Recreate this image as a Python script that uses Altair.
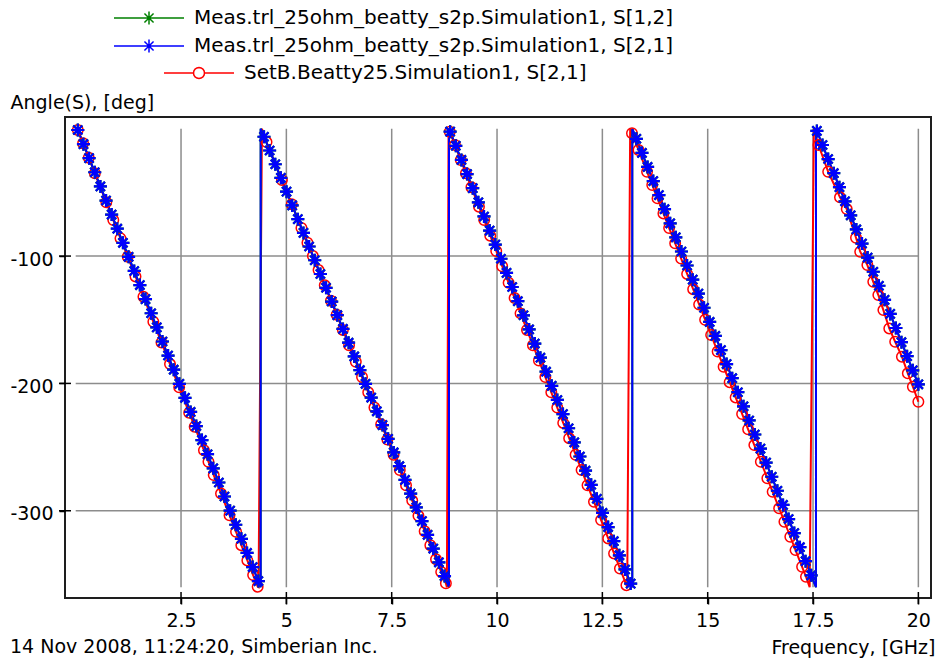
import math
import altair as alt
import pandas as pd

FONT = "DejaVu Sans"
FS = 19
LFS = 20

# ---------------- data ----------------
# measured S[2,1] (blue, asterisks) -- marker positions, one list per wrapped segment
meas_f_a = [0.05, 0.184, 0.318, 0.452, 0.586, 0.72, 0.853, 0.987, 1.121, 1.255, 1.389, 1.523, 1.657, 1.791,
            1.925, 2.059, 2.192, 2.326, 2.46, 2.594, 2.728, 2.862, 2.996, 3.13, 3.264, 3.398, 3.531, 3.665,
            3.799, 3.933, 4.067, 4.201, 4.335]
meas_a_a = [-1, -12.1, -23.1, -34.2, -45.3, -56.4, -67.4, -78.5, -89.6, -100.6, -111.7, -122.8, -133.8, -144.9,
            -156, -167.1, -178.1, -189.2, -200.3, -211.3, -222.4, -233.5, -244.5, -255.6, -266.7, -277.8, -288.8,
            -299.9, -311, -322, -333.1, -344.2, -355.2]
meas_f_b = [4.469, 4.603, 4.737, 4.87, 5.004, 5.138, 5.272, 5.406, 5.54, 5.674, 5.808, 5.942, 6.076, 6.209,
            6.343, 6.477, 6.611, 6.745, 6.879, 7.013, 7.147, 7.281, 7.415, 7.548, 7.682, 7.816, 7.95, 8.084,
            8.218, 8.352, 8.486, 8.62, 8.754]
meas_a_b = [-6.3, -17.1, -27.9, -38.6, -49.4, -60.2, -71, -81.8, -92.5, -103.3, -114.1, -124.9, -135.7, -146.4,
            -157.2, -168, -178.8, -189.6, -200.3, -211.1, -221.9, -232.7, -243.5, -254.2, -265, -275.8, -286.6,
            -297.4, -308.1, -318.9, -329.7, -340.5, -351.3]
meas_f_c = [8.887, 9.021, 9.155, 9.289, 9.423, 9.557, 9.691, 9.825, 9.959, 10.093, 10.226, 10.36, 10.494,
            10.628, 10.762, 10.896, 11.03, 11.164, 11.298, 11.432, 11.565, 11.699, 11.833, 11.967, 12.101,
            12.235, 12.369, 12.503, 12.637, 12.771, 12.904, 13.038, 13.172]
meas_a_c = [-2.3, -13.4, -24.5, -35.6, -46.7, -57.8, -68.9, -80, -91, -102.1, -113.2, -124.3, -135.4, -146.5,
            -157.6, -168.7, -179.8, -190.8, -201.9, -213, -224.1, -235.2, -246.3, -257.4, -268.5, -279.6,
            -290.6, -301.7, -312.8, -323.9, -335, -346.1, -357.2]
meas_f_d = [13.306, 13.44, 13.574, 13.708, 13.842, 13.976, 14.11, 14.243, 14.377, 14.511, 14.645, 14.779,
            14.913, 15.047, 15.181, 15.315, 15.449, 15.582, 15.716, 15.85, 15.984, 16.118, 16.252, 16.386,
            16.52, 16.654, 16.788, 16.921, 17.055, 17.189, 17.323, 17.457]
meas_a_d = [-7.9, -19, -30, -41.1, -52.1, -63.2, -74.3, -85.3, -96.4, -107.4, -118.5, -129.5, -140.6, -151.7,
            -162.7, -173.8, -184.8, -195.9, -206.9, -218, -229.1, -240.1, -251.2, -262.2, -273.3, -284.3,
            -295.4, -306.5, -317.5, -328.6, -339.6, -350.7]
meas_f_e = [17.591, 17.725, 17.859, 17.993, 18.127, 18.26, 18.394, 18.528, 18.662, 18.796, 18.93, 19.064,
            19.198, 19.332, 19.466, 19.599, 19.733, 19.867, 20.0]
meas_a_e = [-1.7, -12.8, -23.8, -34.9, -45.9, -57, -68, -79.1, -90.2, -101.2, -112.3, -123.3, -134.4, -145.4,
            -156.5, -167.6, -178.6, -189.7, -200.7]
meas_wrap_bottom = [4.39, 8.86, 13.21, 17.57]   # phase jumps from -360 ...
meas_wrap_top = [4.39, 8.86, 13.21, 17.57]      # ... back to 0

# S[1,2] (green) lies exactly under S[2,1] in the picture
s12_f = meas_f_a + meas_f_b + meas_f_c + meas_f_d + meas_f_e
s12_a = meas_a_a + meas_a_b + meas_a_c + meas_a_d + meas_a_e
s21_f = meas_f_a + meas_f_b + meas_f_c + meas_f_d + meas_f_e
s21_a = meas_a_a + meas_a_b + meas_a_c + meas_a_d + meas_a_e

# simulated S[2,1] (red, circles)
sim_f = [0.05, 0.175, 0.31, 0.455, 0.726, 0.892, 1.063, 1.235, 1.419, 1.608, 1.843, 2.036, 2.238, 2.456,
         2.693, 2.824, 3.044, 3.151, 3.276, 3.449, 3.651, 3.806, 3.931, 4.074, 4.211, 4.319,
         4.529, 4.895, 5.128, 5.358, 5.5, 5.629, 5.764, 5.911, 6.058, 6.194, 6.341, 6.488, 6.648, 6.796,
         6.943, 7.09, 7.25, 7.398, 7.545, 7.692, 7.84, 7.987, 8.135, 8.282, 8.417, 8.552, 8.675, 8.786,
         8.878, 9.001, 9.14, 9.262, 9.392, 9.571, 9.695, 9.839, 9.981, 10.122, 10.275, 10.417, 10.558,
         10.711, 10.852, 10.994, 11.147, 11.288, 11.43, 11.571, 11.712, 11.865, 12.007, 12.148, 12.301,
         12.47, 12.639, 12.778, 12.917, 13.071,
         13.203, 13.358, 13.561, 13.684, 13.809, 13.949, 14.085, 14.228, 14.37, 14.512, 14.655, 14.797,
         14.939, 15.082, 15.236, 15.378, 15.521, 15.663, 15.817, 15.96, 16.107, 16.262, 16.416, 16.542,
         16.696, 16.821, 16.961, 17.085, 17.241, 17.333,
         17.63, 17.86, 18.14, 18.3, 18.52, 18.62, 18.79, 18.93, 19.05, 19.17, 19.31, 19.45, 19.61, 19.75,
         19.87, 20.0]
sim_a = [-1, -11.5, -22.8, -35, -57.8, -71.7, -86.1, -100.5, -116, -131.9, -151.6, -167.8, -184.8, -203.1,
         -223, -234, -252.5, -261.5, -272, -286.5, -303.5, -316.5, -327, -339, -350.5, -359.6,
         -10.5, -40.3, -59.3, -78, -89.5, -100, -111, -123, -135, -146, -158, -170, -183, -195, -207, -219,
         -232, -244, -256, -268, -280, -292, -304, -316, -327, -338, -348, -357,
         -2.4, -12.8, -24.6, -35, -46, -61.2, -71.7, -84, -96, -108, -121, -133, -145, -158, -170, -182,
         -195, -207, -219, -231, -243, -256, -268, -280, -293, -307.3, -321.7, -333.5, -345.3, -358.4,
         -3.6, -16.7, -33.8, -44.2, -54.7, -66.5, -78, -90, -102, -114, -126, -138, -150, -162, -175, -187,
         -199, -211, -224, -236, -248.4, -261.5, -274.5, -285.1, -298.1, -308.6, -320.4, -330.9, -344,
         -351.8,
         -12.8, -33.8, -53.9, -63.1, -85.6, -96.6, -107.1, -120.2, -130.6, -142.4, -156.8, -167.3, -179,
         -192.1, -202.6, -214.4]
sim_wrap_bottom = [4.34, 8.81, 13.09, 17.42]
sim_wrap_top = [4.42, 8.85, 13.16, 17.52]

labels = ["Meas.trl_25ohm_beatty_s2p.Simulation1, S[1,2]",
          "Meas.trl_25ohm_beatty_s2p.Simulation1, S[2,1]",
          "SetB.Beatty25.Simulation1, S[2,1]"]
colors = ["#008000", "#0000ff", "#ff0000"]

x_ticks = [2.5, 5, 7.5, 10, 12.5, 15, 17.5, 20]
y_ticks = [-300, -200, -100]
grid_x_range = [0, 20]
grid_y_range = [-360, 0]
x_domain = [-0.254, 20.30]
y_domain = [-368.5, 9.2]
footer = "14 Nov 2008, 11:24:20, Simberian Inc."


# ---------------- tables ----------------
def line_table(fs, angs, bottoms, tops, label):
    rows = [(f, a, 1) for f, a in zip(fs, angs)]
    rows += [(b, grid_y_range[0], 0) for b in bottoms]
    rows += [(t, grid_y_range[1], 2) for t in tops]
    rows.sort(key=lambda r: (r[0], r[2]))
    return pd.DataFrame({"f": [r[0] for r in rows], "angle": [r[1] for r in rows],
                         "k": list(range(len(rows))), "series": label})


def point_table(fs, angs, label):
    return pd.DataFrame({"f": fs, "angle": angs, "series": label})


green_line = line_table(s12_f, s12_a, meas_wrap_bottom, meas_wrap_top, labels[0])
blue_line = line_table(s21_f, s21_a, meas_wrap_bottom, meas_wrap_top, labels[1])
red_line = line_table(sim_f, sim_a, sim_wrap_bottom, sim_wrap_top, labels[2])

# ---------------- symbols ----------------
STAR = "M-1,0L1,0M0,-1L0,1M-0.7,-0.7L0.7,0.7M-0.7,0.7L0.7,-0.7"


def legend_star():
    s = 6.5 / 35
    d = s * 0.7
    return (f"M-1,0L1,0M0,{-s:.3f}L0,{s:.3f}M{-d:.3f},{-d:.3f}L{d:.3f},{d:.3f}"
            f"M{-d:.3f},{d:.3f}L{d:.3f},{-d:.3f}")


def legend_circle():
    r = 5.5 / 35
    pts = [(r * math.cos(2 * math.pi * i / 16), r * math.sin(2 * math.pi * i / 16)) for i in range(16)]
    p = f"M-1,0L{-r:.3f},0M{r:.3f},0L1,0"
    p += "M" + "L".join(f"{x:.3f},{y:.3f}" for x, y in pts) + "Z"
    return p


xs = alt.Scale(domain=x_domain, nice=False, zero=False)
ys = alt.Scale(domain=y_domain, nice=False, zero=False)

xaxis = alt.Axis(values=x_ticks, labelExpr="'' + datum.value", grid=False, domain=False,
                 tickSize=6, tickWidth=1.5, tickColor="black",
                 labelFont=FONT, labelFontSize=FS, labelColor="black", labelPadding=7,
                 labelFlush=False, labelOverlap=False,
                 title="Frequency, [GHz]", titleFont=FONT, titleFontSize=FS, titleFontWeight="normal",
                 titleColor="black", titleAngle=0, titleAlign="right", titleBaseline="alphabetic",
                 titleX=870, titleY=55)
yaxis = alt.Axis(values=y_ticks, labelExpr="'' + datum.value", grid=False, domain=False,
                 tickSize=6, tickWidth=1.5, tickColor="black",
                 labelFont=FONT, labelFontSize=FS, labelColor="black", labelPadding=6, labelOffset=3,
                 title="Angle(S), [deg]", titleFont=FONT, titleFontSize=FS, titleFontWeight="normal",
                 titleColor="black", titleAngle=0, titleAlign="left", titleBaseline="alphabetic",
                 titleX=-55, titleY=-9)

X = alt.X("f:Q", scale=xs, axis=xaxis)
Y = alt.Y("angle:Q", scale=ys, axis=yaxis)

# grid (only across the data range, like the reference)
vgrid = alt.Chart(pd.DataFrame({"f": x_ticks, "y0": grid_y_range[1], "y1": grid_y_range[0]})).mark_rule(
    color="#8c8c8c", strokeWidth=1.5).encode(x=X, y=alt.Y("y0:Q", scale=ys, axis=yaxis), y2="y1:Q")
hgrid = alt.Chart(pd.DataFrame({"angle": y_ticks, "x0": grid_x_range[0], "x1": grid_x_range[1]})).mark_rule(
    color="#8c8c8c", strokeWidth=1.5).encode(y=Y, x=alt.X("x0:Q", scale=xs, axis=xaxis), x2="x1:Q")

# ticks that cross the frame (inside and outside)
xticks_cross = alt.Chart(pd.DataFrame({"f": x_ticks, "angle": y_domain[0]})).mark_tick(
    orient="vertical", size=12, thickness=1.5, color="black", opacity=1).encode(x=X, y=Y)
yticks_cross = alt.Chart(pd.DataFrame({"angle": y_ticks, "f": x_domain[0]})).mark_tick(
    orient="horizontal", size=12, thickness=1.5, color="black", opacity=1).encode(x=X, y=Y)


def line_layer(df, idx, lx, ly, symbol):
    return alt.Chart(df).mark_line(strokeWidth=2).encode(
        x=X, y=Y, order="k:Q",
        color=alt.Color("series:N",
                        scale=alt.Scale(domain=[labels[idx]], range=[colors[idx]]),
                        legend=alt.Legend(title=None, orient="none", legendX=lx, legendY=ly,
                                          symbolType=symbol, symbolSize=4900, symbolStrokeWidth=1.5,
                                          symbolFillColor="transparent", labelFont=FONT,
                                          labelFontSize=LFS, labelColor="black", labelOffset=9,
                                          labelLimit=2000, padding=0)))


red_l = line_layer(red_line, 2, 98, -80, legend_circle())
green_l = line_layer(green_line, 0, 48, -135, legend_star())
blue_l = line_layer(blue_line, 1, 48, -107, legend_star())

red_p = alt.Chart(point_table(sim_f, sim_a, labels[2])).mark_point(
    shape="circle", size=110, filled=False, strokeWidth=1.5, color=colors[2], opacity=1).encode(x=X, y=Y)
green_p = alt.Chart(point_table(s12_f, s12_a, labels[0])).mark_point(
    shape=STAR, size=169, filled=False, strokeWidth=2.2, color=colors[0], opacity=1).encode(x=X, y=Y)
blue_p = alt.Chart(point_table(s21_f, s21_a, labels[1])).mark_point(
    shape=STAR, size=169, filled=False, strokeWidth=2.2, color=colors[1], opacity=1).encode(x=X, y=Y)

foot = alt.Chart(pd.DataFrame({"t": [footer]})).mark_text(
    align="left", baseline="alphabetic", font=FONT, fontSize=FS, color="black").encode(
    x=alt.value(-55), y=alt.value(536), text="t:N")

chart = alt.layer(vgrid, hgrid, xticks_cross, yticks_cross, red_l, green_l, blue_l,
                  red_p, green_p, blue_p, foot).properties(
    width=866, height=481,
    padding={"left": 65, "top": 117, "right": 10, "bottom": 62},
    autosize=alt.AutoSizeParams(type="none"),
    background="white",
).resolve_scale(color="independent").configure_view(stroke="#1e1e1e", strokeWidth=2)

chart.save("out.html", embed_options={"renderer": "svg", "actions": False})
